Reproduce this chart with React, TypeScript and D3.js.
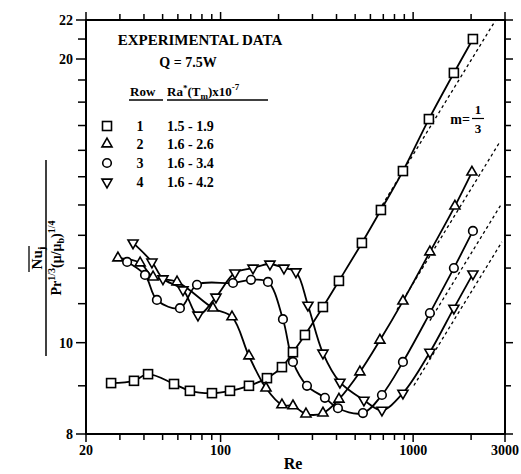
import React from "react";
import * as d3 from "d3";

// Re values and normalized Nu values per row
const row1Re = [27.0, 35.5, 42.0, 57.3, 69.3, 90.2, 111.9, 140.4, 174.1, 208.3, 237.6, 274.3, 340.1, 411.8, 542.0, 680.4, 885.2, 1207.6, 1628, 2044];
const row1Nu = [9.06, 9.11, 9.26, 9.04, 8.89, 8.84, 8.89, 9.0, 9.17, 9.42, 9.77, 10.19, 10.91, 11.63, 12.76, 13.83, 15.21, 17.27, 19.33, 21.0];

const row2Re = [29.3, 38.2, 44.6, 59.4, 91.3, 114.6, 140.4, 172.1, 208.3, 237.6, 277.6, 340.1, 411.8, 529.2, 672.2, 885.2, 1222, 1648, 2020];
const row2Nu = [12.3, 12.15, 11.74, 11.6, 10.88, 10.65, 9.68, 8.95, 8.59, 8.57, 8.4, 8.42, 8.71, 9.31, 10.06, 11.07, 12.48, 13.96, 15.17];

const row3Re = [32.7, 40.5, 46.7, 61.5, 75.4, 116.0, 143.8, 176.2, 210.8, 237.6, 281.0, 348.2, 406.9, 548.6, 688.6, 885.2, 1222, 1628, 2044];
const row3Nu = [12.18, 11.8, 11.1, 10.88, 11.52, 11.57, 11.66, 11.6, 10.59, 9.54, 9.0, 8.74, 8.52, 8.42, 8.8, 9.54, 10.75, 12.0, 13.14];

const row4Re = [35.1, 44.0, 50.2, 63.8, 76.3, 94.6, 118.7, 147.3, 180.4, 213.3, 246.2, 284.3, 340.1, 416.8, 555.2, 688.6, 885.2, 1222, 1628, 2044];
const row4Nu = [12.76, 12.18, 11.69, 11.38, 10.7, 11.18, 11.86, 12.0, 12.12, 12.0, 11.89, 10.96, 9.75, 9.08, 8.69, 8.48, 8.84, 9.77, 10.88, 11.83];

// m = 1/3 reference lines: Nu = C * Re^(1/3)
const refCoef = [1.583, 1.156, 0.987, 0.898];
const refStart = [641, 824, 1222, 1009];
const refEnd = [2690, 2822, 2855, 2891];

const rowNames = ["1", "2", "3", "4"];
const rowRanges = ["1.5 - 1.9", "1.6 - 2.6", "1.6 - 3.4", "1.6 - 4.2"];
const rowSymbols = ["square", "triangleUp", "circle", "triangleDown"];

const xTicks = [20, 30, 40, 50, 60, 70, 80, 90, 100, 200, 300, 400, 500, 600, 700, 800, 900, 1000, 2000, 3000];
const xTickLabels = [20, 100, 1000, 3000];
const yTicks = [8, 9, 10, 11, 12, 13, 14, 15, 16, 17, 18, 19, 20, 21, 22];
const yTickLabels = [8, 10, 20, 22];

const FONT = "'Liberation Serif', 'Times New Roman', serif";

const xS = d3.scaleLog().domain([20, 3000]).range([86, 505]);
const yS = d3.scaleLog().domain([8, 22]).range([434, 20]);

function Marker({ kind, x, y }: { kind: string; x: number; y: number }) {
  const sw = 1.6;
  if (kind === "square") {
    return <rect x={x - 4.5} y={y - 4.5} width={9} height={9} fill="white" stroke="black" strokeWidth={sw} />;
  }
  if (kind === "circle") {
    return <circle cx={x} cy={y} r={4.3} fill="white" stroke="black" strokeWidth={sw} />;
  }
  const p = d3.symbol().type(d3.symbolTriangle).size(44)()!;
  const rot = kind === "triangleDown" ? 180 : 0;
  return <path d={p} transform={`translate(${x},${y}) rotate(${rot})`} fill="white" stroke="black" strokeWidth={sw} />;
}

export default function App() {
  const rows = [
    { re: row1Re, nu: row1Nu },
    { re: row2Re, nu: row2Nu },
    { re: row3Re, nu: row3Nu },
    { re: row4Re, nu: row4Nu },
  ];
  const line = d3
    .line<[number, number]>()
    .x((d) => xS(d[0]))
    .y((d) => yS(d[1]))
    .curve(d3.curveCatmullRom.alpha(0.5));

  const refLine = d3
    .line<[number, number]>()
    .x((d) => xS(d[0]))
    .y((d) => yS(d[1]));

  const xL = xS.range()[0];
  const xR = xS.range()[1];
  const yB = yS.range()[0];
  const yT = yS.range()[1];

  return (
    <svg
      width={521}
      height={474}
      style={{ position: "absolute", left: 0, top: 0, background: "white" }}
      fontFamily={FONT}
      fontWeight="bold"
    >
      <rect x={0} y={0} width={521} height={474} fill="white" />
      {/* reference dashed lines */}
      {refCoef.map((c, i) => {
        const pts: [number, number][] = [
          [refStart[i], c * Math.cbrt(refStart[i])],
          [refEnd[i], c * Math.cbrt(refEnd[i])],
        ];
        return <path key={"r" + i} d={refLine(pts)!} fill="none" stroke="black" strokeWidth={1.3} strokeDasharray="3,3" />;
      })}
      {/* data curves */}
      {rows.map((r, i) => {
        const pts = r.re.map((v, j) => [v, r.nu[j]] as [number, number]);
        return <path key={"l" + i} d={line(pts)!} fill="none" stroke="black" strokeWidth={1.8} />;
      })}
      {rows.map((r, i) =>
        r.re.map((v, j) => <Marker key={`m${i}-${j}`} kind={rowSymbols[i]} x={xS(v)} y={yS(r.nu[j])} />)
      )}
      {/* frame */}
      <rect x={xL} y={yT} width={xR - xL} height={yB - yT} fill="none" stroke="black" strokeWidth={2} />
      {/* x ticks */}
      {xTicks.map((t) => {
        const major = xTickLabels.includes(t);
        const len = major ? 8 : 6;
        return (
          <g key={"xt" + t}>
            <line x1={xS(t)} x2={xS(t)} y1={yB} y2={yB + len} stroke="black" strokeWidth={1.5} />
            <line x1={xS(t)} x2={xS(t)} y1={yT} y2={yT - len} stroke="black" strokeWidth={1.5} />
          </g>
        );
      })}
      {xTickLabels.map((t) => (
        <text key={"xl" + t} x={xS(t)} y={455} textAnchor="middle" fontSize={14}>
          {t}
        </text>
      ))}
      {/* y ticks */}
      {yTicks.map((t) => {
        const major = yTickLabels.includes(t);
        const len = major ? 10 : 8;
        return (
          <g key={"yt" + t}>
            <line x1={xL} x2={xL - len} y1={yS(t)} y2={yS(t)} stroke="black" strokeWidth={1.5} />
            <line x1={xR} x2={xR + len - 2} y1={yS(t)} y2={yS(t)} stroke="black" strokeWidth={1.5} />
          </g>
        );
      })}
      {yTickLabels.map((t) => (
        <text key={"yl" + t} x={73} y={yS(t) + 5} textAnchor="end" fontSize={14}>
          {t}
        </text>
      ))}
      {/* axis titles */}
      <text x={293} y={469} textAnchor="middle" fontSize={16}>
        Re
      </text>
      <g transform="translate(46,258) rotate(-90)">
        <line x1={-98} x2={98} y1={0} y2={0} stroke="black" strokeWidth={1.5} />
        <line x1={-14} x2={12} y1={-17} y2={-17} stroke="black" strokeWidth={1.3} />
        <text x={0} y={-4} textAnchor="middle" fontSize={15}>
          Nu<tspan fontSize={11} dy={3}>j</tspan>
        </text>
        <text x={0} y={15} textAnchor="middle" fontSize={14}>
          Pr<tspan fontSize={10} dy={-6}>1/3</tspan>
          <tspan dy={6}>(μ/μ</tspan>
          <tspan fontSize={10} dy={3}>b</tspan>
          <tspan dy={-3}>)</tspan>
          <tspan fontSize={10} dy={-6}>1/4</tspan>
        </text>
      </g>
      {/* annotations */}
      <text x={200} y={45} textAnchor="middle" fontSize={15}>
        EXPERIMENTAL DATA
      </text>
      <text x={188} y={67} textAnchor="middle" fontSize={14}>
        Q = 7.5W
      </text>
      <text x={130} y={96} fontSize={13}>
        Row
      </text>
      <line x1={129} x2={163} y1={100} y2={100} stroke="black" strokeWidth={1.3} />
      <text x={167} y={96} fontSize={13}>
        Ra<tspan fontSize={9} dy={-5}>*</tspan>
        <tspan dy={5}>(T</tspan>
        <tspan fontSize={9} dy={3}>m</tspan>
        <tspan dy={-3}>)x10</tspan>
        <tspan fontSize={9} dy={-6}>-7</tspan>
      </text>
      <line x1={167} x2={268} y1={100} y2={100} stroke="black" strokeWidth={1.3} />
      {rowNames.map((n, i) => {
        const base = [131, 149, 168, 187][i];
        return (
          <g key={"lg" + i}>
            <Marker kind={rowSymbols[i]} x={107} y={base - 5} />
            <text x={140} y={base} textAnchor="middle" fontSize={14}>
              {n}
            </text>
            <text x={167} y={base} fontSize={14}>
              {rowRanges[i]}
            </text>
          </g>
        );
      })}
      <text x={470} y={124} textAnchor="end" fontSize={14}>
        m=
      </text>
      <text x={478} y={114} textAnchor="middle" fontSize={13}>
        1
      </text>
      <line x1={472} x2={484} y1={118.5} y2={118.5} stroke="black" strokeWidth={1.2} />
      <text x={478} y={133} textAnchor="middle" fontSize={13}>
        3
      </text>
    </svg>
  );
}
